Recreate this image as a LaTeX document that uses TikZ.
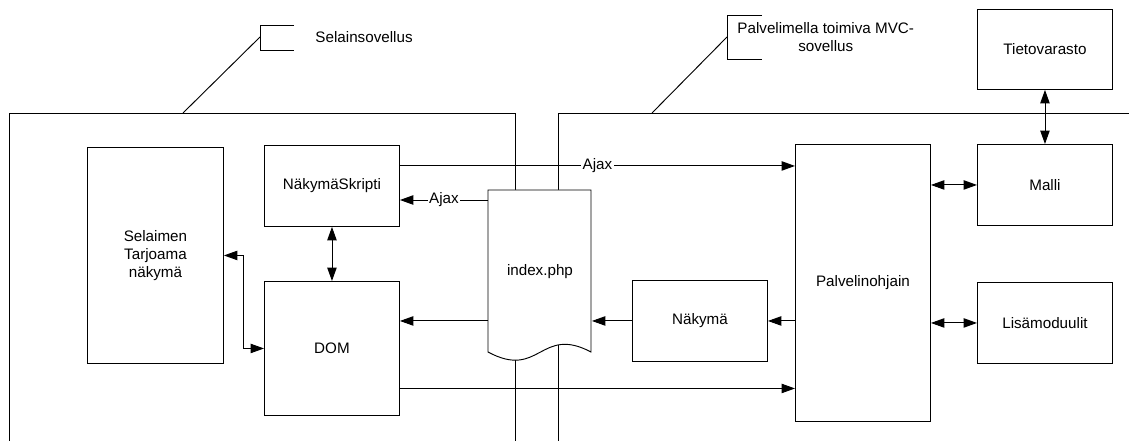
\documentclass[tikz,border=0pt]{standalone}
\usepackage{fontspec}
\setmainfont{Liberation Sans}
\usetikzlibrary{arrows.meta}

\begin{document}
\begin{tikzpicture}[
  x=0.75pt, y=-0.75pt,
  line width=0.7pt,
  every node/.style={font=\fontsize{11.4}{13.5}\selectfont},
  box/.style={rectangle, draw, align=center, anchor=north west, minimum width=101.25pt, minimum height=60.75pt},
  arr/.style={-{Triangle[length=10pt, width=7pt]}},
  dblarr/.style={{Triangle[length=10pt, width=7pt]}-{Triangle[length=10pt, width=7pt]}},
  lbl/.style={fill=white, inner sep=1pt},
]
\useasboundingbox (0,0) rectangle (1129,441);

% Frames
\draw (9,441) -- (9,113) -- (515,113) -- (515,441);
\draw (558,441) -- (558,113) -- (1129,113);

% Callouts
\coordinate (selc) at (260,37);
\coordinate (palc) at (727,37);
\draw (294,25) -- (260,25) -- (260,50) -- (294,50);
\draw (selc) -- (183,113);
\node[anchor=west, inner sep=0] (selt) at (315,37) {Selainsovellus};
\draw (762,15) -- (727,15) -- (727,59) -- (762,59);
\draw (palc) -- (652,113);
\node[anchor=west, align=center, inner sep=0] (palt) at (737,37) {Palvelimella toimiva MVC-\\sovellus};

% Browser side
\node[box, minimum width=102pt, minimum height=162pt] (sel) at (87,147) {Selaimen\\Tarjoama\\näkymä};
\node[box] (skr) at (264,145) {NäkymäSkripti};
\node[box, minimum height=100.5pt] (dom) at (264,281) {DOM};

% index.php document
\draw[fill=white] (488,190) -- (591,190) -- (591,352) .. controls (540,325) and (540,380) .. (488,352) -- cycle;
\node[box, draw=none, minimum width=77.25pt, minimum height=121.5pt] (idx) at (488,190) {index.php};

% Server side
\node[box] (nk) at (632,280) {Näkymä};
\node[box, minimum height=207.75pt] (pal) at (795,144) {Palvelinohjain};
\node[box] (mal) at (977,144) {Malli};
\node[box] (lis) at (977,282) {Lisämoduulit};
\node[box, minimum height=60pt] (tie) at (977,9) {Tietovarasto};

% Connectors
\coordinate (aj1) at ([shift={(0,-20)}]skr.east);
\coordinate (aj2) at ([shift={(0,10)}]idx.north west);
\coordinate (dp) at ([shift={(0,40)}]dom.east);
\draw[arr] (aj1) -- (aj1 -| pal.west) node[lbl, midway] {Ajax};
\draw[arr] (aj2) -- (aj2 -| skr.east) node[lbl, midway] {Ajax};
\draw[dblarr] (skr.south) -- (dom.north);
\draw[dblarr] (sel.east) -- ++(20,0) |- (dom.west);
\draw[arr] (nk.west -| idx.west) -- (nk.west -| dom.east);
\draw[arr] (nk.west) -- (nk.west -| idx.east);
\draw[arr] (nk.east -| pal.west) -- (nk.east);
\draw[arr] (dp) -- (dp -| pal.west);
\draw[dblarr] (mal.west -| pal.east) -- (mal.west);
\draw[dblarr] (lis.west -| pal.east) -- (lis.west);
\draw[dblarr] (tie.south) -- (mal.north);
\end{tikzpicture}
\end{document}
